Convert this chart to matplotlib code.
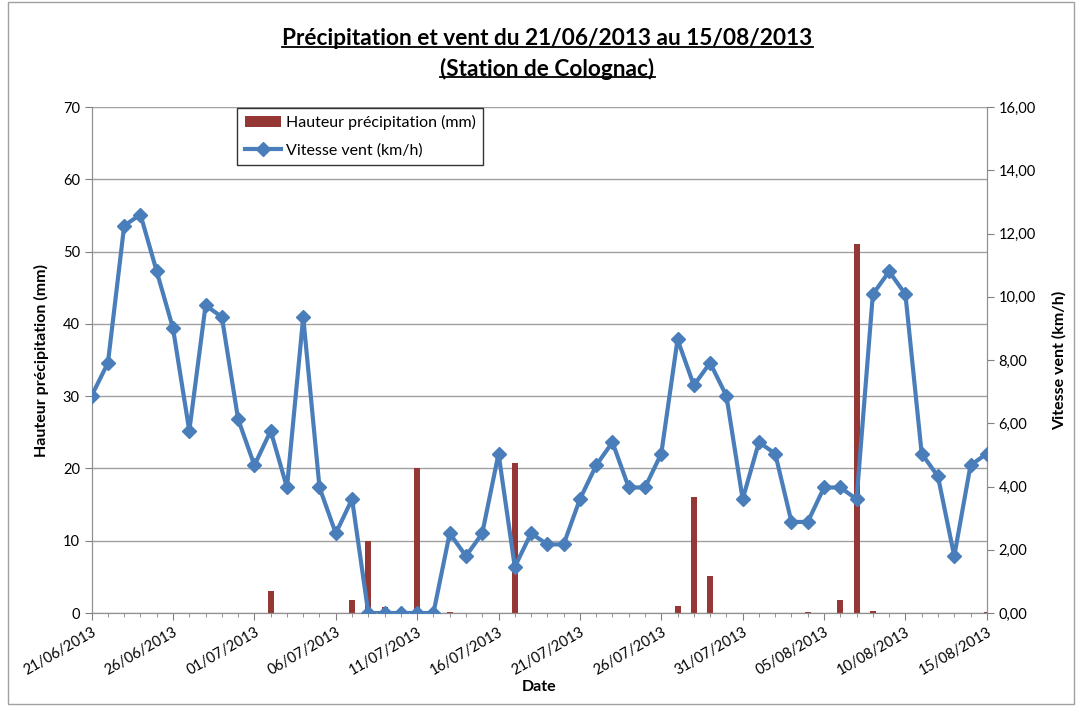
import numpy as np
import pandas as pd
import matplotlib
matplotlib.use("Agg")
import matplotlib.pyplot as plt
from matplotlib.patches import Rectangle

plt.rcParams['font.family'] = ['Lato', 'DejaVu Sans']

dates = pd.date_range("2013-06-21", "2013-08-15", freq="D")
date_labels = [d.strftime("%d/%m/%Y") for d in dates]

vent = [6.87, 7.91, 12.25, 12.60, 10.80, 9.00, 5.76, 9.73, 9.36, 6.13,
        4.67, 5.76, 3.97, 9.36, 3.97, 2.52, 3.60, 0.00, 0.00, 0.00,
        0.00, 0.00, 2.52, 1.80, 2.52, 5.04, 1.46, 2.52, 2.17, 2.17,
        3.60, 4.67, 5.40, 3.97, 3.97, 5.04, 8.65, 7.20, 7.91, 6.87,
        3.60, 5.40, 5.04, 2.88, 2.88, 3.97, 3.97, 3.60, 10.08, 10.80,
        10.08, 5.04, 4.32, 1.80, 4.67, 5.04]

pluie = np.zeros(len(dates))
pluie_jours = [11, 16, 17, 18, 20, 22, 26, 36, 37, 38, 44, 46, 47, 48, 55]
pluie_mm = [3.0, 1.8, 10.0, 0.9, 20.0, 0.2, 20.8, 1.0, 16.0, 5.1, 0.1, 1.8, 51.0, 0.3, 0.1]
pluie[pluie_jours] = pluie_mm

x = np.arange(len(dates))

fig = plt.figure(figsize=(10.82, 7.06), dpi=100)
fig.patches.append(Rectangle((0.007, 0.003), 0.986, 0.994, transform=fig.transFigure,
                             fill=False, edgecolor="#a0a0a0", linewidth=1))
ax = fig.add_axes([0.0847, 0.1317, 0.8273, 0.7167])
ax2 = ax.twinx()

bars = ax.bar(x, pluie, width=0.37, color="#953735", label="Hauteur précipitation (mm)", zorder=2)
line, = ax2.plot(x, vent, color="#4a7ebb", linewidth=3, marker="D", markersize=7,
                 label="Vitesse vent (km/h)", zorder=3)

ax.set_xlim(0, len(dates) - 1)
ax.set_ylim(0, 70)
ax.set_yticks(np.arange(0, 71, 10))
ax2.set_ylim(0, 16)
ax2.set_yticks(np.arange(0, 17, 2))
ax2.set_yticklabels([f"{v:.2f}".replace(".", ",") for v in np.arange(0, 17, 2)])

ax.set_xticks(x[::5])
ax.set_xticklabels(date_labels[::5], rotation=30, ha="right", fontsize=10.5,
                   rotation_mode="anchor")
ax.set_xticks(x, minor=True)
ax.tick_params(axis="x", which="major", length=5, color="#808080")
ax.tick_params(axis="x", which="minor", length=3, color="#808080")
ax.tick_params(axis="y", length=5, color="#808080", labelsize=10.5)
ax2.tick_params(axis="y", length=5, color="#808080", labelsize=10.5)

ax.yaxis.grid(True, color="#a0a0a0", linewidth=1)
ax.set_axisbelow(True)
for a in (ax, ax2):
    a.spines["top"].set_visible(False)
    for s in ("left", "right", "bottom"):
        a.spines[s].set_color("#909090")

ax.set_xlabel("Date", fontweight="bold", fontsize=11.5, labelpad=2)
ax.set_ylabel("Hauteur précipitation (mm)", fontweight="bold", fontsize=11.5, labelpad=10)
ax2.set_ylabel("Vitesse vent (km/h)", fontweight="bold", fontsize=11.5, labelpad=12)

ax.set_zorder(ax2.get_zorder() - 1)
ax.patch.set_visible(True)
ax2.patch.set_visible(False)

leg = ax2.legend([bars, line], ["Hauteur précipitation (mm)", "Vitesse vent (km/h)"],
                 loc="upper left", bbox_to_anchor=(0.162, 1.0), fontsize=11.5,
                 frameon=True, fancybox=False, edgecolor="black", handlelength=2.3,
                 handletextpad=0.3, labelspacing=0.85, borderpad=0.45, borderaxespad=0.05)
leg.get_frame().set_linewidth(1)

t1 = fig.text(0.506, 0.945, "Précipitation et vent du 21/06/2013 au 15/08/2013",
              ha="center", va="center", fontsize=16.3, fontweight="bold")
t2 = fig.text(0.506, 0.903, "(Station de Colognac)",
              ha="center", va="center", fontsize=16.3, fontweight="bold")

# soulignement du titre
fig.canvas.draw()
r = fig.canvas.get_renderer()
inv = fig.transFigure.inverted()
for t in (t1, t2):
    bb = t.get_window_extent(r).transformed(inv)
    y = bb.y0 + 0.004
    fig.add_artist(plt.Line2D([bb.x0, bb.x1], [y, y], color="black", linewidth=1.3))

fig.savefig("out.png", dpi=100)
